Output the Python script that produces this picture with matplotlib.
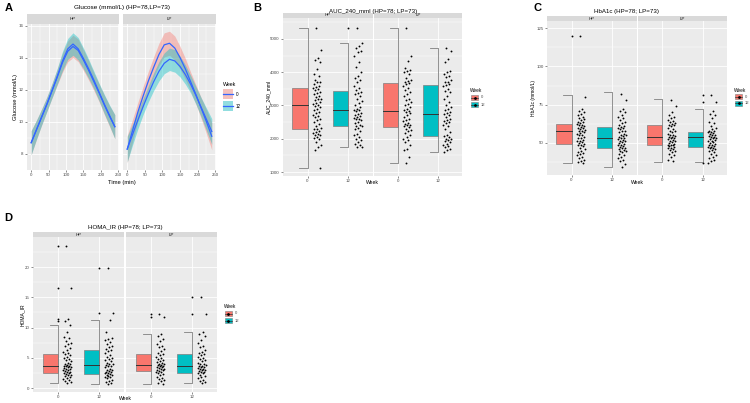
import numpy as np
import matplotlib.pyplot as plt
from matplotlib.patches import Rectangle
from matplotlib.lines import Line2D

plt.rcParams['font.family'] = ['Liberation Sans', 'DejaVu Sans']

# ---- Panel A: smoothed glucose curves ----
time_min = [0, 15, 30, 45, 60, 75, 90, 105, 120, 135, 150, 165, 180, 195, 210, 225, 240]
glu_hp_wk0 = [8.7, 9.5, 10.3, 11.1, 11.95, 12.8, 13.7, 14.4, 14.7, 14.45, 13.85, 13.2, 12.5, 11.8, 11.05, 10.35, 9.7]
glu_hp_wk12 = [8.7, 9.5, 10.3, 11.1, 11.95, 12.85, 13.8, 14.55, 14.85, 14.55, 13.95, 13.3, 12.6, 11.85, 11.1, 10.4, 9.7]
glu_lp_wk0 = [8.3, 9.45, 10.6, 11.6, 12.55, 13.4, 14.2, 14.8, 14.9, 14.6, 14.0, 13.3, 12.5, 11.7, 10.85, 10.0, 9.1]
glu_lp_wk12 = [8.3, 9.2, 10.1, 10.95, 11.75, 12.5, 13.15, 13.65, 13.9, 13.8, 13.45, 12.95, 12.35, 11.65, 10.9, 10.15, 9.4]
ci_hp_wk0 = [0.75, 0.6, 0.5, 0.45, 0.45, 0.5, 0.6, 0.65, 0.7, 0.7, 0.65, 0.6, 0.55, 0.55, 0.6, 0.65, 0.75]
ci_hp_wk12 = [0.75, 0.6, 0.5, 0.45, 0.45, 0.5, 0.6, 0.65, 0.7, 0.7, 0.65, 0.6, 0.55, 0.55, 0.6, 0.65, 0.75]
ci_lp_wk0 = [0.85, 0.7, 0.6, 0.6, 0.6, 0.65, 0.7, 0.75, 0.75, 0.75, 0.7, 0.65, 0.6, 0.6, 0.65, 0.75, 0.85]
ci_lp_wk12 = [0.8, 0.65, 0.55, 0.5, 0.5, 0.55, 0.6, 0.65, 0.7, 0.7, 0.65, 0.6, 0.55, 0.55, 0.6, 0.7, 0.8]

weeks = ['0', '12']
diets = ['HP', 'LP']

# ---- Panel B: AUC_240 ----
# box stats: q1, median, q3, whisker low, whisker high  (HP-0, HP-12, LP-0, LP-12)
auc_stats = [[2290, 3015, 3527, 1120, 5330],
             [2384, 2853, 3446, 1740, 4890],
             [2354, 2844, 3666, 1270, 5330],
             [2083, 2745, 3617, 1600, 4730]]
auc_hp_wk0 = [5330, 4660, 4420, 4380, 4300, 4100, 3950, 3900, 3780, 3720, 3700, 3650, 3600, 3560, 3530,
              3500, 3480, 3420, 3380, 3350, 3300, 3260, 3200, 3180, 3150, 3100, 3060, 3030, 3010, 2980,
              2950, 2900, 2860, 2800, 2760, 2720, 2680, 2650, 2600, 2560, 2500, 2450, 2380, 2330, 2300,
              2280, 2230, 2200, 2170, 2150, 2120, 2100, 2060, 2020, 1980, 1900, 1800, 1750, 1650, 1120]
auc_hp_wk12 = [5330, 4890, 4800, 4720, 4650, 4600, 4480, 4300, 4150, 4000, 3900, 3820, 3760, 3700, 3600,
               3520, 3460, 3420, 3380, 3350, 3300, 3200, 3120, 3060, 3000, 2950, 2900, 2870, 2850, 2820,
               2780, 2750, 2700, 2680, 2650, 2620, 2600, 2580, 2550, 2500, 2460, 2420, 2390, 2370, 2330,
               2280, 2220, 2150, 2100, 2050, 2000, 1950, 1900, 1850, 1800, 1760, 1740]
auc_lp_wk0 = [5330, 4480, 4350, 4120, 4080, 4050, 4000, 3950, 3820, 3780, 3750, 3700, 3680, 3640, 3600,
              3520, 3480, 3400, 3350, 3300, 3200, 3150, 3100, 3050, 3000, 2950, 2900, 2860, 2840, 2800,
              2760, 2700, 2650, 2600, 2560, 2520, 2480, 2450, 2420, 2400, 2370, 2340, 2300, 2260, 2220,
              2180, 2120, 2050, 2000, 1950, 1900, 1820, 1700, 1650, 1450, 1270]
auc_lp_wk12 = [4730, 4640, 4400, 4300, 4050, 4000, 3950, 3900, 3850, 3780, 3720, 3700, 3650, 3620, 3580,
               3500, 3450, 3400, 3300, 3200, 3100, 3000, 2950, 2900, 2850, 2800, 2760, 2730, 2700, 2650,
               2600, 2560, 2520, 2500, 2460, 2420, 2380, 2300, 2200, 2120, 2080, 2050, 2000, 1980, 1950,
               1920, 1900, 1850, 1800, 1780, 1750, 1700, 1650, 1600]

# ---- Panel C: HbA1c ----
hba_stats = [[49.5, 57.5, 62.5, 37.0, 81.0],
             [46.5, 53.0, 60.5, 34.0, 83.0],
             [48.4, 53.7, 61.9, 37.6, 79.0],
             [47.4, 53.7, 57.2, 37.6, 72.0]]
hba_hp_wk0 = [120, 80, 72, 71, 70, 69, 68, 67, 66, 65.5, 65, 64, 63.5, 63, 62.5, 62, 61.5, 61, 60.5, 60,
              59.5, 59, 58.5, 58, 57.5, 57, 56.5, 56, 55.5, 55, 54, 53.5, 53, 52, 51.5, 51, 50.5, 50, 49.5,
              49, 48.5, 48, 47, 46, 45, 44, 43.5, 43, 42, 41, 40, 39, 38, 37.5, 37]
hba_hp_wk12 = [82, 78, 72, 71, 70, 68, 67, 66, 65, 64, 63, 62, 61, 60.5, 60, 59.5, 59, 58, 57.5, 57, 56,
               55.5, 55, 54.5, 54, 53.5, 53, 52.5, 52, 51.5, 51, 50.5, 50, 49.5, 49, 48.5, 48, 47.5, 47,
               46.5, 46, 45.5, 45, 44.5, 44, 43, 42, 41, 40, 39, 38, 36, 34]
hba_lp_wk0 = [78, 74, 70, 68, 67, 66, 65, 64.5, 64, 63, 62.5, 62, 61.5, 61, 60, 59, 58, 57.5, 57, 56,
              55.5, 55, 54.5, 54, 53.8, 53.5, 53, 52.5, 52, 51.5, 51, 50.5, 50, 49.5, 49, 48.7, 48.4, 48,
              47.5, 47, 46.5, 46, 45.5, 45, 44, 43, 42, 41, 39, 38]
hba_lp_wk12 = [81, 77, 71, 69, 68, 66, 64, 63, 61, 60, 59, 58, 57.5, 57.2, 57, 56.5, 56, 55.5, 55, 54.5,
               54, 53.8, 53.5, 53, 52.5, 52, 51.5, 51, 50.5, 50, 49.5, 49, 48.5, 48, 47.5, 47.4, 47, 46.5,
               46, 45.5, 45, 44, 43, 42, 41, 40, 39, 38, 37]

# ---- Panel D: HOMA_IR ----
homa_stats = [[2.5, 3.7, 5.7, 0.9, 10.4],
              [2.3, 3.8, 6.3, 0.7, 11.3],
              [2.8, 3.8, 5.6, 0.7, 9.0],
              [2.5, 3.7, 5.6, 0.8, 9.2]]
homa_hp_wk0 = [23.5, 16.5, 11.4, 11.1, 10.4, 9.3, 8.5, 8.2, 7.8, 7.5, 7.2, 6.9, 6.6, 6.3, 6.0, 5.8, 5.7,
               5.5, 5.2, 5.0, 4.8, 4.6, 4.4, 4.2, 4.0, 3.9, 3.8, 3.7, 3.7, 3.6, 3.5, 3.4, 3.3, 3.2, 3.1,
               3.0, 2.9, 2.8, 2.7, 2.6, 2.5, 2.4, 2.3, 2.2, 2.1, 2.0, 1.9, 1.7, 1.5, 1.3, 1.2, 1.0, 0.9]
homa_hp_wk12 = [19.9, 12.4, 11.3, 9.3, 8.3, 8.1, 7.9, 7.6, 7.3, 7.0, 6.8, 6.5, 6.3, 6.1, 5.8, 5.5, 5.2,
                5.0, 4.8, 4.6, 4.4, 4.2, 4.0, 3.9, 3.8, 3.7, 3.6, 3.4, 3.2, 3.0, 2.9, 2.8, 2.7, 2.6, 2.5,
                2.4, 2.3, 2.2, 2.1, 2.0, 1.9, 1.8, 1.6, 1.4, 1.2, 1.0, 0.8, 0.7]
homa_lp_wk0 = [12.3, 11.8, 9.0, 8.6, 8.1, 7.7, 7.3, 7.0, 6.7, 6.4, 6.1, 5.8, 5.6, 5.4, 5.2, 5.0, 4.8, 4.6,
               4.4, 4.3, 4.1, 4.0, 3.9, 3.8, 3.8, 3.7, 3.6, 3.5, 3.4, 3.3, 3.2, 3.1, 3.0, 2.9, 2.8, 2.7,
               2.6, 2.5, 2.3, 2.1, 1.9, 1.7, 1.5, 1.3, 1.1, 0.9, 0.7]
homa_lp_wk12 = [15.0, 12.2, 9.2, 9.0, 8.6, 7.9, 7.5, 7.0, 6.7, 6.3, 6.0, 5.8, 5.6, 5.4, 5.2, 5.0, 4.8,
                4.6, 4.4, 4.2, 4.0, 3.9, 3.8, 3.7, 3.6, 3.5, 3.4, 3.3, 3.2, 3.1, 3.0, 2.9, 2.8, 2.7, 2.6,
                2.5, 2.4, 2.2, 2.0, 1.8, 1.6, 1.4, 1.2, 1.0, 0.8]

RED, CYAN, LINE = '#F8766D', '#00BFC4', '#3366FF'
PANEL, STRIP, GRAYTXT = '#EBEBEB', '#D9D9D9', '#4D4D4D'
W, H = 750, 403

fig = plt.figure(figsize=(7.5, 4.03), dpi=100)


def fx(x):
    return x / W


def fy(y):
    return 1 - y / H


def add_ax(x0, y0, x1, y1, **kw):
    return fig.add_axes([fx(x0), fy(y1), (x1 - x0) / W, (y1 - y0) / H], **kw)


def strip(x0, x1, y0, y1, label):
    s = add_ax(x0, y0, x1, y1)
    s.set_facecolor(STRIP)
    s.set_xticks([])
    s.set_yticks([])
    for sp in s.spines.values():
        sp.set_visible(False)
    s.text(0.5, 0.5, label, ha='center', va='center', fontsize=3.2, color='#1A1A1A',
           transform=s.transAxes)


def style(ax, xlim, ylim, xmaj, xmin, ymaj, ymin, show_y):
    ax.set_facecolor(PANEL)
    ax.set_xlim(xlim)
    ax.set_ylim(ylim)
    ax.set_xticks(xmaj)
    ax.set_xticks(xmin, minor=True)
    ax.set_yticks(ymaj)
    ax.set_yticks(ymin, minor=True)
    ax.grid(True, which='major', color='white', lw=0.6)
    ax.grid(True, which='minor', color='white', lw=0.3)
    ax.set_axisbelow(True)
    for sp in ax.spines.values():
        sp.set_visible(False)
    ax.tick_params(which='major', length=1.5, width=0.4, color='#333333', labelsize=3.2,
                   labelcolor=GRAYTXT, pad=1)
    ax.tick_params(which='minor', length=0)
    if not show_y:
        ax.tick_params(axis='y', which='major', length=0, labelleft=False)


# ================= Panel A =================
fig.text(fx(9), fy(8), 'A', fontsize=8, fontweight='bold', ha='center', va='center')
fig.text(fx(122), fy(7), 'Glucose (mmol/L) (HP=78,LP=73)', fontsize=4.6, ha='center', va='center')
a_curves = [[(glu_hp_wk0, ci_hp_wk0), (glu_hp_wk12, ci_hp_wk12)],
            [(glu_lp_wk0, ci_lp_wk0), (glu_lp_wk12, ci_lp_wk12)]]
a_facets = [(27, 119), (123, 216)]
t = np.array(time_min)
for i, (x0, x1) in enumerate(a_facets):
    strip(x0, x1, 14, 24, diets[i])
    ax = add_ax(x0, 24, x1, 170)
    style(ax, (-12, 252), (7.0, 16.1), [0, 50, 100, 150, 200, 250], [25, 75, 125, 175, 225],
          [8, 10, 12, 14, 16], [9, 11, 13, 15], i == 0)
    for (m, ci), col in zip(a_curves[i], [RED, CYAN]):
        m, ci = np.array(m), np.array(ci)
        ax.fill_between(t, m - ci, m + ci, color=col, alpha=0.4, lw=0, zorder=2)
    for (m, ci) in a_curves[i]:
        ax.plot(t, m, color=LINE, lw=0.9, zorder=3)
fig.text(fx(15), fy(97), 'Glucose (mmol/L)', rotation=90, fontsize=4.2, ha='center', va='center')
fig.text(fx(122), fy(182), 'Time (min)', fontsize=4.2, ha='center', va='center')
# legend A
fig.text(fx(223), fy(85), 'Week', fontsize=3.8, ha='left', va='center')
for k, (col, lab) in enumerate(zip([RED, CYAN], weeks)):
    yk = 89 + 12 * k
    fig.patches.append(Rectangle((fx(223), fy(yk + 10)), 10 / W, 10 / H, transform=fig.transFigure,
                                 fc='#F2F2F2', ec='none'))
    fig.patches.append(Rectangle((fx(223), fy(yk + 10)), 10 / W, 10 / H, transform=fig.transFigure,
                                 fc=col, alpha=0.4, ec='none'))
    fig.add_artist(Line2D([fx(223), fx(233)], [fy(yk + 5), fy(yk + 5)], color=LINE, lw=0.9))
    fig.text(fx(236), fy(yk + 5), lab, fontsize=3.3, ha='left', va='center')


# ================= Box panels =================
def box_panel(letter, letter_xy, title, title_xy, ylabel, ylabel_x, xlabel_y,
              facets, ytop, ybot, ylim, ymaj, ymin, stats, groups, legend_xy):
    fig.text(fx(letter_xy[0]), fy(letter_xy[1]), letter, fontsize=8, fontweight='bold',
             ha='center', va='center')
    fig.text(fx(title_xy[0]), fy(title_xy[1]), title, fontsize=4.4, ha='center', va='center')
    strip_top = ytop - 5
    for i, (x0, x1) in enumerate(facets):
        strip(x0, x1, strip_top, ytop, diets[i])
        ax = add_ax(x0, ytop, x1, ybot)
        style(ax, (0.4, 2.6), ylim, [1, 2], [], ymaj, ymin, i == 0)
        ax.set_xticklabels(weeks)
        for j in range(2):
            pos = j + 1
            q1, med, q3, lo, hi = stats[2 * i + j]
            ax.add_patch(Rectangle((pos - 0.37, q1), 0.37, q3 - q1, fc=[RED, CYAN][j],
                                   ec='#7F7F7F', lw=0.5, zorder=3))
            ax.plot([pos - 0.37, pos], [med, med], color='#333333', lw=0.7, zorder=4)
            ax.plot([pos - 0.2, pos, pos, pos - 0.2], [lo, lo, hi, hi], color='#7F7F7F',
                    lw=0.6, zorder=3)
            pts = np.array(groups[2 * i + j], dtype=float)
            k = np.arange(len(pts))
            jit = ((k * 0.618034 + 0.37) % 1) * 2 - 1
            ax.scatter(pos + 0.23 + 0.1 * jit, pts, s=1.8, c='black', lw=0, zorder=5)
            out = pts[(pts > hi) | (pts < lo)]
            ax.scatter(np.full(len(out), pos), out, s=1.8, c='black', lw=0, zorder=5)
    mid = (ytop + ybot) / 2
    fig.text(fx(ylabel_x), fy(mid), ylabel, rotation=90, fontsize=3.6, ha='center', va='center')
    xc = (facets[0][0] + facets[1][1]) / 2
    fig.text(fx(xc), fy(xlabel_y), 'Week', fontsize=3.6, ha='center', va='center')
    lx, ly = legend_xy
    fig.text(fx(lx), fy(ly), 'Week', fontsize=3.4, ha='left', va='center')
    for j, col in enumerate([RED, CYAN]):
        yk = ly + 4 + 7 * j
        fig.patches.append(Rectangle((fx(lx + 1), fy(yk + 5)), 7 / W, 5 / H,
                                     transform=fig.transFigure, fc=col, ec='#7F7F7F', lw=0.4))
        fig.add_artist(Line2D([fx(lx + 1), fx(lx + 8)], [fy(yk + 2.5), fy(yk + 2.5)],
                              color='#333333', lw=0.5))
        fig.add_artist(Line2D([fx(lx + 4.5)], [fy(yk + 2.5)], marker='o', ms=1.0,
                              color='black', lw=0))
        fig.text(fx(lx + 11), fy(yk + 2.5), weeks[j], fontsize=3.0, color=GRAYTXT,
                 ha='left', va='center')


box_panel('B', (257, 8), 'AUC_240_mml (HP=78; LP=73)', (373, 11), 'AUC_240_mml', 269, 183,
          [(283, 373), (374, 462)], 18, 175.5, (895, 5630),
          [1000, 2000, 3000, 4000, 5000], [1500, 2500, 3500, 4500, 5500], auc_stats,
          [auc_hp_wk0, auc_hp_wk12, auc_lp_wk0, auc_lp_wk12], (470, 91))

box_panel('C', (537, 8), 'HbA1c (HP=78; LP=73)', (627, 11), 'HbA1c (mmol/L)', 533, 183,
          [(547, 637), (638, 727)], 21, 175, (29.1, 129.6),
          [50, 75, 100, 125], [37.5, 62.5, 87.5, 112.5], hba_stats,
          [hba_hp_wk0, hba_hp_wk12, hba_lp_wk0, hba_lp_wk12], (734, 90))

box_panel('D', (8, 218), 'HOMA_IR (HP=78; LP=73)', (125, 227), 'HOMA_IR', 22, 399,
          [(33, 124), (126, 217)], 237, 392, (-0.66, 24.96),
          [0, 5, 10, 15, 20], [2.5, 7.5, 12.5, 17.5, 22.5], homa_stats,
          [homa_hp_wk0, homa_hp_wk12, homa_lp_wk0, homa_lp_wk12], (224, 307))

fig.savefig('out.png', dpi=100)
